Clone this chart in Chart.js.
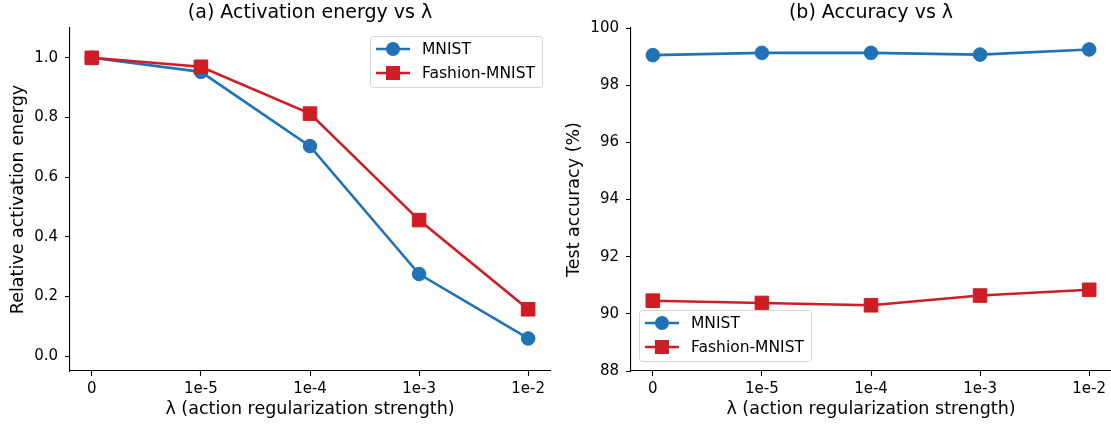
<!DOCTYPE html>
<html><head><meta charset="utf-8">
<script src="https://cdn.jsdelivr.net/npm/chart.js@4.4.0/dist/chart.umd.min.js"></script>
<style>
html,body{margin:0;padding:0;background:#fff;overflow:hidden}
#wrap{position:relative;width:1111px;height:425px;background:#fff}
.c{position:absolute;top:0;height:425px}
#ca{left:0;width:555px}
#cb{left:555px;width:556px}
canvas{display:block}
</style></head><body>
<div id="wrap"><div class="c" id="ca"><canvas id="a" width="555" height="425"></canvas></div><div class="c" id="cb"><canvas id="b" width="556" height="425"></canvas></div></div>
<script>
const categories = ['0', '1e-5', '1e-4', '1e-3', '1e-2'];
const seriesNames = ['MNIST', 'Fashion-MNIST'];
const energyMNIST = [1.0, 0.953, 0.704, 0.275, 0.059];
const energyFashion = [1.0, 0.970, 0.813, 0.456, 0.157];
const accMNIST = [99.05, 99.13, 99.13, 99.07, 99.25];
const accFashion = [90.46, 90.38, 90.30, 90.64, 90.84];
const energyTicks = [0, 0.2, 0.4, 0.6, 0.8, 1.0];
const accTicks = [88, 90, 92, 94, 96, 98, 100];

const FONT = "'DejaVu Sans', sans-serif";
const BLUE = '#1f72b5';
const RED = '#d01c24';

const titleToArea = {
  id: 'titleToArea',
  afterLayout(chart) {
    const t = chart.titleBlock;
    if (t) { t.left = chart.chartArea.left; t.right = chart.chartArea.right; t.width = t.right - t.left; }
  }
};

const boxLegend = {
  id: 'boxLegend',
  afterDraw(chart, args, opts) {
    const ctx = chart.ctx;
    const x = opts.x, y = opts.y, w = 172, h = 51;
    ctx.save();
    ctx.beginPath();
    if (ctx.roundRect) ctx.roundRect(x + 0.5, y + 0.5, w, h, 3); else ctx.rect(x + 0.5, y + 0.5, w, h);
    ctx.fillStyle = 'rgba(255,255,255,0.8)';
    ctx.fill();
    ctx.strokeStyle = '#d6d6d6';
    ctx.lineWidth = 1;
    ctx.stroke();
    chart.data.datasets.forEach((ds, i) => {
      const cy = y + 13 + i * 24;
      ctx.strokeStyle = ds.borderColor;
      ctx.lineWidth = 2.5;
      ctx.beginPath();
      ctx.moveTo(x + 6, cy); ctx.lineTo(x + 40, cy); ctx.stroke();
      ctx.fillStyle = ds.borderColor;
      ctx.beginPath();
      if (ds.pointStyle === 'rect') { ctx.rect(x + 23 - 7, cy - 7, 14, 14); }
      else { ctx.arc(x + 23, cy, 7, 0, Math.PI * 2); }
      ctx.fill();
      ctx.fillStyle = '#000';
      ctx.font = '15.5px ' + FONT;
      ctx.textBaseline = 'middle';
      ctx.textAlign = 'left';
      ctx.fillText(ds.label, x + 52, cy + 1);
    });
    ctx.restore();
  }
};

function dataset(label, values, color, style, order) {
  return {
    label: label,
    data: values.map((v, i) => ({ x: i, y: v })),
    borderColor: color,
    backgroundColor: color,
    borderWidth: 2.6,
    pointStyle: style,
    pointRadius: style === 'rect' ? 9.6 : 6.8,
    pointHoverRadius: style === 'rect' ? 9.6 : 6.8,
    pointBorderWidth: 1,
    pointBackgroundColor: color,
    pointBorderColor: color,
    tension: 0,
    clip: false,
    order: order
  };
}

function axisBase() {
  return {
    type: 'linear',
    border: { display: true, color: '#000', width: 1.1 },
    grid: { drawOnChartArea: false, drawTicks: true, tickLength: 5, color: '#000', tickColor: '#000', tickWidth: 1.1 }
  };
}

function zeroPad(s) { s.paddingLeft = 0; s.paddingRight = 0; s.paddingTop = 0; s.paddingBottom = 0; }

function makeChart(id, d1, d2, yMin, yMax, yTicks, yFmt, yTitle, title, yWidth, yTitlePad, padRight, legendPos) {
  const xAxis = Object.assign(axisBase(), {
    min: -0.2, max: 4.2,
    afterBuildTicks: s => { s.ticks = categories.map((_, i) => ({ value: i })); },
    ticks: { callback: v => categories[v], color: '#000', font: { family: FONT, size: 15 }, padding: 4, maxRotation: 0, autoSkip: false },
    title: { display: true, text: 'λ (action regularization strength)', color: '#000', font: { family: FONT, size: 17.5 }, padding: { top: 0, bottom: 5.5 } },
    afterFit: s => { s.height = 54; zeroPad(s); }
  });
  const yAxis = Object.assign(axisBase(), {
    min: yMin, max: yMax,
    afterBuildTicks: s => { s.ticks = yTicks.map(v => ({ value: v })); },
    ticks: { callback: yFmt, color: '#000', font: { family: FONT, size: 15 }, padding: 7 },
    title: { display: true, text: yTitle, color: '#000', font: { family: FONT, size: 17.5 }, padding: { top: yTitlePad, bottom: 0 } },
    afterFit: s => { s.width = yWidth; zeroPad(s); }
  });
  return new Chart(document.getElementById(id), {
    type: 'line',
    data: {
      datasets: [
        dataset(seriesNames[0], d1, BLUE, 'circle', 1),
        dataset(seriesNames[1], d2, RED, 'rect', 0)
      ]
    },
    options: {
      responsive: false,
      animation: false,
      devicePixelRatio: 1,
      layout: { autoPadding: false, padding: { left: 0, right: padRight, top: 0, bottom: 0 } },
      scales: { x: xAxis, y: yAxis },
      plugins: {
        legend: { display: false },
        tooltip: { enabled: false },
        title: { display: true, text: title, color: '#000', font: { family: FONT, size: 19, weight: 'normal' }, padding: { top: 2, bottom: 3.2 } },
        boxLegend: legendPos
      }
    },
    plugins: [titleToArea, boxLegend]
  });
}

makeChart('a', energyMNIST, energyFashion, -0.05, 1.1, energyTicks, v => v.toFixed(1),
  'Relative activation energy', '(a) Activation energy vs λ', 70, 7.5, 5, { x: 370, y: 36 });
makeChart('b', accMNIST, accFashion, 88, 100, accTicks, v => String(v),
  'Test accuracy (%)', '(b) Accuracy vs λ', 76, 9.2, 0, { x: 84, y: 310 });
</script>
</body></html>
